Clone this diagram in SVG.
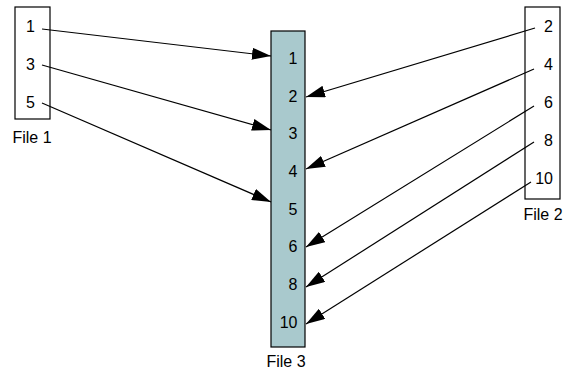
<svg xmlns="http://www.w3.org/2000/svg" width="566" height="372" viewBox="0 0 566 372">
<style>
text{font-family:"Liberation Sans",Arial,Helvetica,sans-serif;font-size:16px;fill:#000}
.box{fill:#fff;stroke:#000;stroke-width:1.2}
.box3{fill:#a9c9cd;stroke:#000;stroke-width:1.2}
.e{text-anchor:end}
.c{text-anchor:middle}
.conn line{stroke:#000;stroke-width:1.2;marker-end:url(#ah)}
</style>
<defs>
<marker id="ah" markerUnits="userSpaceOnUse" markerWidth="20" markerHeight="12" refX="19" refY="6" orient="auto">
<path d="M0,0 L19,6 L0,12 Z" fill="#000"/>
</marker>
</defs>
<g id="file1">
<rect class="box" x="15" y="7" width="35" height="112"/>
<text x="26" y="32">1</text>
<text x="26" y="70">3</text>
<text x="26" y="108">5</text>
<text x="32" y="143" class="c">File 1</text>
</g>
<g id="file3">
<rect class="box3" x="271" y="31" width="34" height="316"/>
<text class="e" x="297.5" y="63.5">1</text>
<text class="e" x="297.5" y="101.5">2</text>
<text class="e" x="297.5" y="139">3</text>
<text class="e" x="297.5" y="177">4</text>
<text class="e" x="297.5" y="214.5">5</text>
<text class="e" x="297.5" y="252">6</text>
<text class="e" x="297.5" y="290">8</text>
<text class="e" x="297.5" y="327.5">10</text>
<text x="286" y="367" class="c">File 3</text>
</g>
<g id="file2">
<rect class="box" x="525" y="7" width="35" height="192"/>
<text class="e" x="553" y="32">2</text>
<text class="e" x="553" y="70">4</text>
<text class="e" x="553" y="108">6</text>
<text class="e" x="553" y="146">8</text>
<text class="e" x="553" y="184">10</text>
<text x="543" y="220" class="c">File 2</text>
</g>
<g id="connectors" class="conn">
<line x1="42" y1="29" x2="271" y2="56"/>
<line x1="42" y1="65" x2="271" y2="130"/>
<line x1="42" y1="103" x2="271" y2="202"/>
<line x1="535" y1="28" x2="306" y2="97"/>
<line x1="534" y1="69" x2="306" y2="169"/>
<line x1="534" y1="106" x2="306" y2="247"/>
<line x1="534" y1="142" x2="306" y2="287"/>
<line x1="531" y1="182" x2="306" y2="324"/>
</g>
</svg>
